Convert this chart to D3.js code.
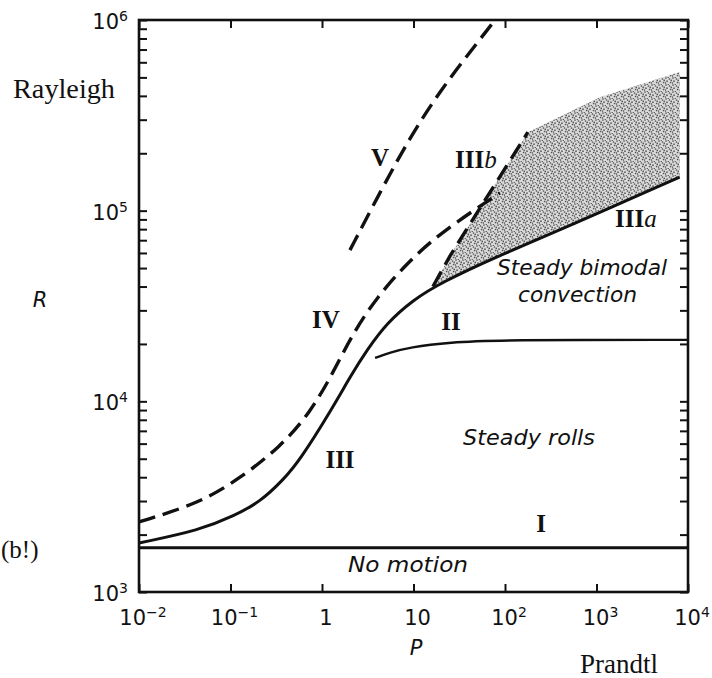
<!DOCTYPE html>
<html>
<head>
<meta charset="utf-8">
<script src="https://cdn.jsdelivr.net/npm/d3@7"></script>
<style>
  body { margin: 0; background: #fff; }
  svg { display: block; }
</style>
</head>
<body>
<div class="regimeChart"><svg></svg></div>
<script>
// Prandtl number P, Rayleigh number R
var curveI = [[0.01, 1708], [10000, 1708]];
var curveIII = [[0.01, 1807], [0.0465, 2113], [0.109, 2508], [0.21, 2965], [0.375, 3864], [0.575, 4920],
    [1.32, 9330], [2.02, 13400], [3.1, 18600], [5.13, 25800], [9.9, 34000],
    [19.5, 41700], [88, 58500], [476, 82000], [8100, 150000]];
var curveII = [[3.8, 16900], [5.5, 18000], [9, 19200], [25, 20400], [88, 21000], [10000, 21000]];
var curveIV = [[0.01, 2330], [0.0465, 2930], [0.127, 3950], [0.348, 5750], [0.74, 8690], [1.32, 14100],
    [2.18, 22800], [3.99, 35200], [8.5, 53100], [19.5, 76400], [88, 124000]];
var curveV = [[2.02, 62100], [4.31, 125000], [9.16, 243000], [19.5, 424000], [41.4, 679000], [77.8, 1000000]];
var curveIIIb = [[16.3, 40000], [25, 57800], [41.4, 85100], [88, 151000], [178, 258000]];
var shadeTop = [[178, 258000], [1090, 394000], [8100, 533000]];
var shadeBottom = [[8100, 150000], [476, 82000], [88, 58500], [19.5, 41700]];

var xTicks = [1e-2, 1e-1, 1, 10, 1e2, 1e3, 1e4];
var xTickBase = ["10", "10", "1", "10", "10", "10", "10"];
var xTickSup = ["\u22122", "\u22121", "", "", "2", "3", "4"];
var yTicks = [1e3, 1e4, 1e5, 1e6];
var yTickBase = ["10", "10", "10", "10"];
var yTickSup = ["3", "4", "5", "6"];

function RegimeVis() {
    let self = this;
    self.init();
}

RegimeVis.prototype.init = function () {
    let self = this;
    self.svgWidth = 712;
    self.svgHeight = 678;

    var svg = d3.select(".regimeChart").select("svg")
        .attr("width", self.svgWidth)
        .attr("height", self.svgHeight);

    var left = 139, right = 688, top = 20, bottom = 592;
    var x = d3.scaleLog().domain([1e-2, 1e4]).range([left, right]);
    var y = d3.scaleLog().domain([1e3, 1e6]).range([bottom, top]);

    var minorY = [];
    [1e3, 1e4, 1e5].forEach(function (d) {
        for (var k = 1; k < 10; k++) minorY.push(d * k);
    });
    minorY.push(1e6);

    // stipple for the shaded region
    var defs = svg.append("defs");
    var pat = defs.append("pattern")
        .attr("id", "stipple")
        .attr("patternUnits", "userSpaceOnUse")
        .attr("width", 7).attr("height", 7);
    pat.append("rect").attr("width", 7).attr("height", 7).attr("fill", "#dadada");
    [[1, 1], [4.5, 2], [2, 4.2], [5.6, 5.5], [0.4, 6], [3.3, 0.1], [6.3, 3.4]].forEach(function (p) {
        pat.append("circle").attr("cx", p[0]).attr("cy", p[1]).attr("r", 0.85).attr("fill", "#555");
    });

    var linear = d3.line().x(function (d) { return x(d[0]); }).y(function (d) { return y(d[1]); });
    var smooth = d3.line().x(function (d) { return x(d[0]); }).y(function (d) { return y(d[1]); })
        .curve(d3.curveBasis);

    svg.append("path")
        .attr("d", linear(curveIIIb.concat(shadeTop, shadeBottom)) + "Z")
        .attr("fill", "url(#stipple)")
        .attr("stroke", "none");

    // axes: ticks point inwards on all four sides
    var gx = svg.append("g").attr("transform", "translate(0," + bottom + ")")
        .call(d3.axisBottom(x).tickValues(xTicks).tickSize(-8).tickFormat(""));
    var gxt = svg.append("g").attr("transform", "translate(0," + top + ")")
        .call(d3.axisTop(x).tickValues(xTicks).tickSize(-8).tickFormat(""));
    var gy = svg.append("g").attr("transform", "translate(" + left + ",0)")
        .call(d3.axisLeft(y).tickValues(minorY).tickSize(-8).tickFormat(""));
    var gyr = svg.append("g").attr("transform", "translate(" + right + ",0)")
        .call(d3.axisRight(y).tickValues(minorY).tickSize(-8).tickFormat(""));
    [gx, gxt, gy, gyr].forEach(function (g) {
        g.select(".domain").remove();
        g.selectAll("line").attr("stroke", "#111").attr("stroke-width", 2);
    });

    svg.append("rect")
        .attr("x", left).attr("y", top)
        .attr("width", right - left).attr("height", bottom - top)
        .attr("fill", "none").attr("stroke", "#111").attr("stroke-width", 2.6);

    var curves = [
        {data: curveI, dash: null, w: 3, gen: linear},
        {data: curveIII, dash: null, w: 3, gen: smooth},
        {data: curveII, dash: null, w: 2.4, gen: smooth},
        {data: curveIV, dash: "17,8", w: 3.4, gen: smooth},
        {data: curveV, dash: "17,8", w: 3.4, gen: smooth},
        {data: curveIIIb, dash: "17,8", w: 3.4, gen: linear}
    ];
    svg.selectAll("path.curve").data(curves).enter().append("path")
        .attr("class", "curve")
        .attr("d", function (d) { return d.gen(d.data); })
        .attr("fill", "none")
        .attr("stroke", "#111")
        .attr("stroke-width", function (d) { return d.w; })
        .attr("stroke-dasharray", function (d) { return d.dash; });

    // tick labels
    var tickFont = "'DejaVu Sans', sans-serif";
    xTicks.forEach(function (t, i) {
        var txt = svg.append("text")
            .attr("x", x(t) + 4).attr("y", 625)
            .attr("text-anchor", "middle")
            .style("font-family", tickFont).style("font-size", "21px").attr("fill", "#111");
        txt.append("tspan").text(xTickBase[i]);
        if (xTickSup[i]) txt.append("tspan").attr("dy", -8).style("font-size", "14px").text(xTickSup[i]);
    });
    yTicks.forEach(function (t, i) {
        var txt = svg.append("text")
            .attr("x", 128).attr("y", y(t) + 9)
            .attr("text-anchor", "end")
            .style("font-family", tickFont).style("font-size", "21px").attr("fill", "#111");
        txt.append("tspan").text(yTickBase[i]);
        txt.append("tspan").attr("dy", -8).style("font-size", "14px").text(yTickSup[i]);
    });

    var serif = "'Liberation Serif', 'Times New Roman', serif";
    var sans = "'DejaVu Sans', sans-serif";

    function addText(str, px, py, opts) {
        return svg.append("text").text(str)
            .attr("x", px).attr("y", py)
            .attr("text-anchor", opts.anchor || "start")
            .attr("fill", "#111")
            .style("font-family", opts.family)
            .style("font-size", opts.size + "px")
            .style("font-style", opts.italic ? "italic" : "normal")
            .style("font-weight", opts.weight || "normal")
            .attr("textLength", opts.len || null)
            .attr("lengthAdjust", opts.len ? "spacingAndGlyphs" : null);
    }

    addText("Rayleigh", 13, 98, {family: serif, size: 27, len: 102});
    addText("Prandtl", 580, 673, {family: serif, size: 27, len: 78});
    addText("(b!)", 1, 558, {family: serif, size: 25});
    addText("R", 40, 307, {family: sans, size: 21, italic: true, anchor: "middle"});
    addText("P", 416, 655, {family: sans, size: 21, italic: true, anchor: "middle"});

    addText("Steady bimodal", 497, 275, {family: sans, size: 21, italic: true, len: 170});
    addText("convection", 518, 302, {family: sans, size: 21, italic: true, len: 119});
    addText("Steady rolls", 463, 445, {family: sans, size: 21, italic: true, len: 132});
    addText("No motion", 348, 572, {family: sans, size: 21, italic: true, len: 120});

    var numeral = {family: serif, size: 25, anchor: "middle", weight: "bold"};
    addText("V", 380, 166, numeral);
    addText("IV", 326, 328, numeral);
    addText("III", 340, 468, numeral);
    addText("II", 451, 330, numeral);
    addText("I", 541, 532, numeral);

    var t1 = addText("III", 455, 168, {family: serif, size: 25, weight: "bold"});
    t1.append("tspan").style("font-style", "italic").style("font-weight", "normal").text("b");
    var t2 = addText("III", 615, 227, {family: serif, size: 25, weight: "bold"});
    t2.append("tspan").style("font-style", "italic").style("font-weight", "normal").text("a");
};

new RegimeVis();
</script>
</body>
</html>
